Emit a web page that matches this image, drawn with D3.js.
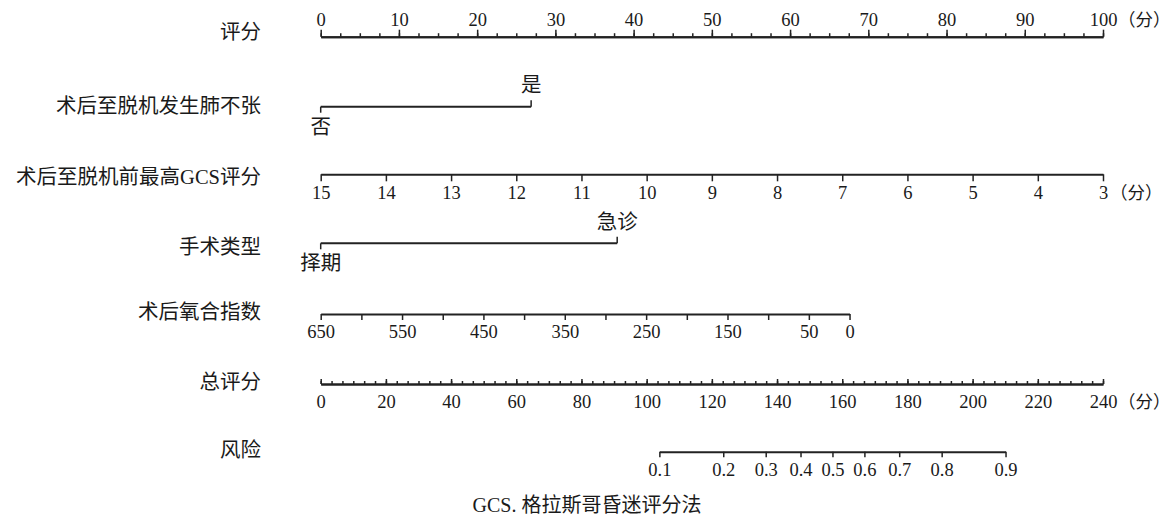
<!DOCTYPE html>
<html>
<head>
<meta charset="utf-8">
<script src="https://cdn.jsdelivr.net/npm/d3@7"></script>
<style>
  body { margin: 0; background: #fff; }
  svg text { fill: #1a1a1a; font-family: "Liberation Serif", "Noto Sans CJK SC", serif; }
</style>
</head>
<body>
<svg id="chart"></svg>
<script>
// ---- data ----
const rowLabels = ["评分", "术后至脱机发生肺不张", "术后至脱机前最高GCS评分", "手术类型", "术后氧合指数", "总评分", "风险"];

const pointTicks = [0, 10, 20, 30, 40, 50, 60, 70, 80, 90, 100];

const atelectasisLevels = ["否", "是"];
const atelectasisPoints = [0, 26.9];

const gcsTicks = [15, 14, 13, 12, 11, 10, 9, 8, 7, 6, 5, 4, 3];

const surgeryLevels = ["择期", "急诊"];
const surgeryPoints = [0, 37.9];

const oxygenTicks = [650, 600, 550, 500, 450, 400, 350, 300, 250, 200, 150, 100, 50, 0];
const oxygenLabels = [650, 550, 450, 350, 250, 150, 50, 0];
const oxygenPointsAtZero = 67.6;   // points given to an index of 0

const totalTicks = [0, 20, 40, 60, 80, 100, 120, 140, 160, 180, 200, 220, 240];

const riskTicks = [0.1, 0.2, 0.3, 0.4, 0.5, 0.6, 0.7, 0.8, 0.9];
const riskTotalPoints = [103.9, 210.1];  // total points where risk = 0.1 and 0.9

const unitLabel = "（分）";
const caption = "GCS. 格拉斯哥昏迷评分法";

// ---- layout ----
const config = {
  width: 1173,
  height: 519,
  x0: 320.7,
  x1: 1103,
  labelRight: 261,
  rowY: [36.7, 106.7, 174.3, 243.3, 314, 384, 451.7],
  labelY: [32, 106, 177, 247, 312, 382, 450],
  numSize: "18.5px",
  cjkSize: "20.5px"
};

const svg = d3.select("#chart")
  .attr("width", config.width)
  .attr("height", config.height);

const pointsScale = d3.scaleLinear().domain([0, 100]).range([config.x0, config.x1]);
const totalScale = d3.scaleLinear().domain([0, 240]).range([config.x0, config.x1]);
const gcsScale = d3.scaleLinear().domain([15, 3]).range([config.x0, config.x1]);
const oxygenScale = d3.scaleLinear().domain([650, 0]).range([config.x0, pointsScale(oxygenPointsAtZero)]);

// risk axis lives on the logit scale of the total points
const logit = p => Math.log(p / (1 - p));
const invLogit = l => 1 / (1 + Math.exp(-l));
const riskScale = d3.scaleLinear()
  .domain([logit(riskTicks[0]), logit(riskTicks[riskTicks.length - 1])])
  .range(riskTotalPoints.map(totalScale));

// row labels on the left
svg.append("g")
  .selectAll("text")
  .data(rowLabels)
  .join("text")
  .attr("x", config.labelRight)
  .attr("y", (d, i) => config.labelY[i])
  .attr("dy", "0.35em")
  .attr("text-anchor", "end")
  .style("font-size", config.cjkSize)
  .text(d => d);

// style an axis group the same way everywhere
function styleAxis(g, lineWidth) {
  g.attr("font-family", null).attr("font-size", null);
  g.select(".domain").attr("stroke", "#222").attr("stroke-width", lineWidth);
  g.selectAll(".tick line").attr("stroke", "#222").attr("stroke-width", 1.5);
  g.selectAll(".tick text").style("font-size", config.numSize).attr("fill", "#1a1a1a");
}

// row 1: points (major + minor ticks pointing up)
const pointsMinor = svg.append("g")
  .attr("transform", `translate(0,${config.rowY[0]})`)
  .call(d3.axisTop(pointsScale).tickValues(d3.range(0, 100.1, 2.5)).tickSize(3.5).tickSizeOuter(0).tickFormat(""));
styleAxis(pointsMinor, 2);
const pointsMajor = svg.append("g")
  .attr("transform", `translate(0,${config.rowY[0]})`)
  .call(d3.axisTop(pointsScale).tickValues(pointTicks).tickSize(7).tickSizeOuter(0).tickPadding(4));
styleAxis(pointsMajor, 2);

// categorical rows: line with a down tick at the first level, up tick at the second
function categoricalRow(levels, pts, y) {
  const g = svg.append("g");
  const xs = pts.map(pointsScale);
  g.append("line")
    .attr("x1", xs[0]).attr("x2", xs[1]).attr("y1", y).attr("y2", y)
    .attr("stroke", "#222").attr("stroke-width", 2);
  g.append("line")
    .attr("x1", xs[0]).attr("x2", xs[0]).attr("y1", y).attr("y2", y + 6)
    .attr("stroke", "#222").attr("stroke-width", 1.5);
  g.append("line")
    .attr("x1", xs[1]).attr("x2", xs[1]).attr("y1", y).attr("y2", y - 6.5)
    .attr("stroke", "#222").attr("stroke-width", 1.5);
  g.append("text")
    .attr("x", xs[0]).attr("y", y + 20).attr("dy", "0.35em")
    .attr("text-anchor", "middle").style("font-size", config.cjkSize)
    .text(levels[0]);
  g.append("text")
    .attr("x", xs[1]).attr("y", y - 21.5).attr("dy", "0.35em")
    .attr("text-anchor", "middle").style("font-size", config.cjkSize)
    .text(levels[1]);
}
categoricalRow(atelectasisLevels, atelectasisPoints, config.rowY[1]);

// GCS row
const gcsAxis = svg.append("g")
  .attr("transform", `translate(0,${config.rowY[2]})`)
  .call(d3.axisBottom(gcsScale).tickValues(gcsTicks).tickSize(7).tickSizeOuter(0).tickPadding(4.5).tickFormat(d3.format("d")));
styleAxis(gcsAxis, 2);

categoricalRow(surgeryLevels, surgeryPoints, config.rowY[3]);

// oxygenation index row
const oxyAxis = svg.append("g")
  .attr("transform", `translate(0,${config.rowY[4]})`)
  .call(d3.axisBottom(oxygenScale).tickValues(oxygenTicks).tickSize(6).tickSizeOuter(0).tickPadding(4.8)
    .tickFormat(d => oxygenLabels.includes(d) ? d : ""));
styleAxis(oxyAxis, 2);

// total points row: ticks pointing up, labels below
const totalMinor = svg.append("g")
  .attr("transform", `translate(0,${config.rowY[5]})`)
  .call(d3.axisBottom(totalScale).tickValues(d3.range(0, 240.1, 20 / 6)).tickSize(-3).tickSizeOuter(0).tickFormat(""));
styleAxis(totalMinor, 2);
const totalMajor = svg.append("g")
  .attr("transform", `translate(0,${config.rowY[5]})`)
  .call(d3.axisBottom(totalScale).tickValues(totalTicks).tickSize(-5).tickSizeOuter(0).tickPadding(10.8));
styleAxis(totalMajor, 2);

// risk row
const riskAxis = svg.append("g")
  .attr("transform", `translate(0,${config.rowY[6]})`)
  .call(d3.axisBottom(riskScale).tickValues(riskTicks.map(logit)).tickSize(5.5).tickSizeOuter(0).tickPadding(6)
    .tickFormat(d => d3.format(".1f")(invLogit(d))));
styleAxis(riskAxis, 2);

// units after the three score axes
const units = [
  {row: 0, x: 1118, dy: -17},
  {row: 2, x: 1110, dy: 19},
  {row: 5, x: 1118, dy: 17.5}
];
svg.append("g")
  .selectAll("text")
  .data(units)
  .join("text")
  .attr("x", d => d.x)
  .attr("y", d => config.rowY[d.row] + d.dy)
  .attr("dy", "0.35em")
  .style("font-size", "17.5px")
  .text(unitLabel);

// caption
svg.append("text")
  .attr("x", 587)
  .attr("y", 505)
  .attr("dy", "0.35em")
  .attr("text-anchor", "middle")
  .style("font-size", "20px")
  .text(caption);
</script>
</body>
</html>
